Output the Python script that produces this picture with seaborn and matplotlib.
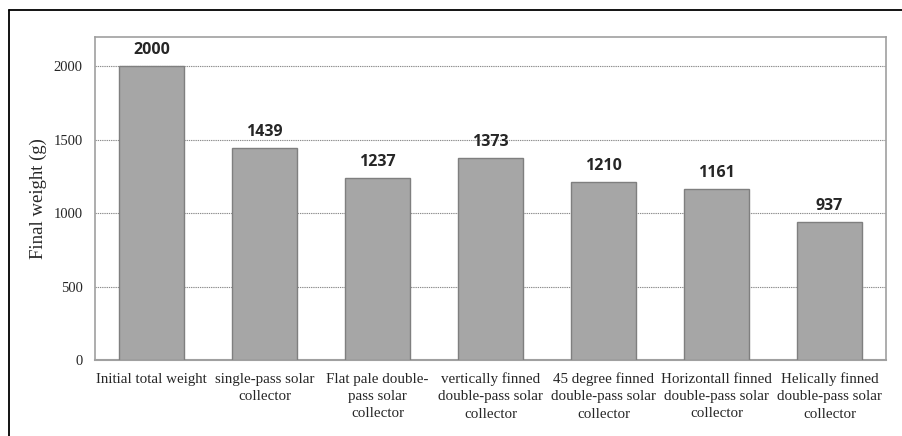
import matplotlib
matplotlib.use("Agg")
import matplotlib.pyplot as plt
from matplotlib.lines import Line2D
import seaborn as sns
import pandas as pd

categories = [
    "Initial total weight",
    "single-pass solar\ncollector",
    "Flat pale double-\npass solar\ncollector",
    "vertically finned\ndouble-pass solar\ncollector",
    "45 degree finned\ndouble-pass solar\ncollector",
    "Horizontall finned\ndouble-pass solar\ncollector",
    "Helically finned\ndouble-pass solar\ncollector",
]
weights = [2000, 1439, 1237, 1373, 1210, 1161, 937]
y_ticks = [0, 500, 1000, 1500, 2000]

df = pd.DataFrame({"sample": categories, "weight": weights})

sns.set_theme(style="white")
plt.rcParams["font.family"] = ["Liberation Serif", "DejaVu Serif"]

W, H = 903, 436
fig = plt.figure(figsize=(W / 100, H / 100), dpi=100)
ax = fig.add_axes([95 / W, 1 - 360 / H, (886 - 95) / W, (360 - 36.6) / H])

sns.barplot(data=df, x="sample", y="weight", ax=ax, color="#a6a6a6",
            saturation=1, width=0.57, edgecolor="#7f7f7f", linewidth=1.0,
            zorder=3)

ax.set_ylim(0, 2200)
ax.set_yticks(y_ticks)
ax.set_yticklabels([str(t) for t in y_ticks], fontsize=10.5)
ax.set_xlim(-0.5, len(categories) - 0.5)
ax.tick_params(axis="x", labelsize=10.8, length=0, pad=9)
ax.tick_params(axis="y", length=0, pad=9)
for lbl in ax.get_xticklabels():
    lbl.set_linespacing(1.42)

for t in y_ticks[1:]:
    ax.axhline(t, color="#8c8c8c", linestyle=(0, (1.2, 0.8)), linewidth=0.8,
               zorder=1)

for side in ["left", "right", "top"]:
    ax.spines[side].set_color("#a0a0a0")
    ax.spines[side].set_linewidth(1.2)
ax.spines["bottom"].set_color("#a0a0a0")
ax.spines["bottom"].set_linewidth(1.5)

ax.set_xlabel("")
ax.set_ylabel("Final weight (g)", fontsize=13.5)
ax.yaxis.set_label_coords(-(95 - 47) / (886 - 95), 0.5)

for i, v in enumerate(weights):
    ax.annotate(str(v), (i, v), xytext=(0, 6), textcoords="offset points",
                ha="center", va="bottom", fontsize=11.5, fontweight="bold",
                family=["Open Sans", "DejaVu Sans"])

# frame around the figure (left and top edges)
fig.add_artist(Line2D([8.5 / W, 8.5 / W], [0, 1 - 10 / H], color="black",
                      linewidth=1.3, transform=fig.transFigure))
fig.add_artist(Line2D([8.5 / W, 1], [1 - 10 / H, 1 - 10 / H], color="black",
                      linewidth=1.3, transform=fig.transFigure))

fig.savefig("out.png", dpi=100)
